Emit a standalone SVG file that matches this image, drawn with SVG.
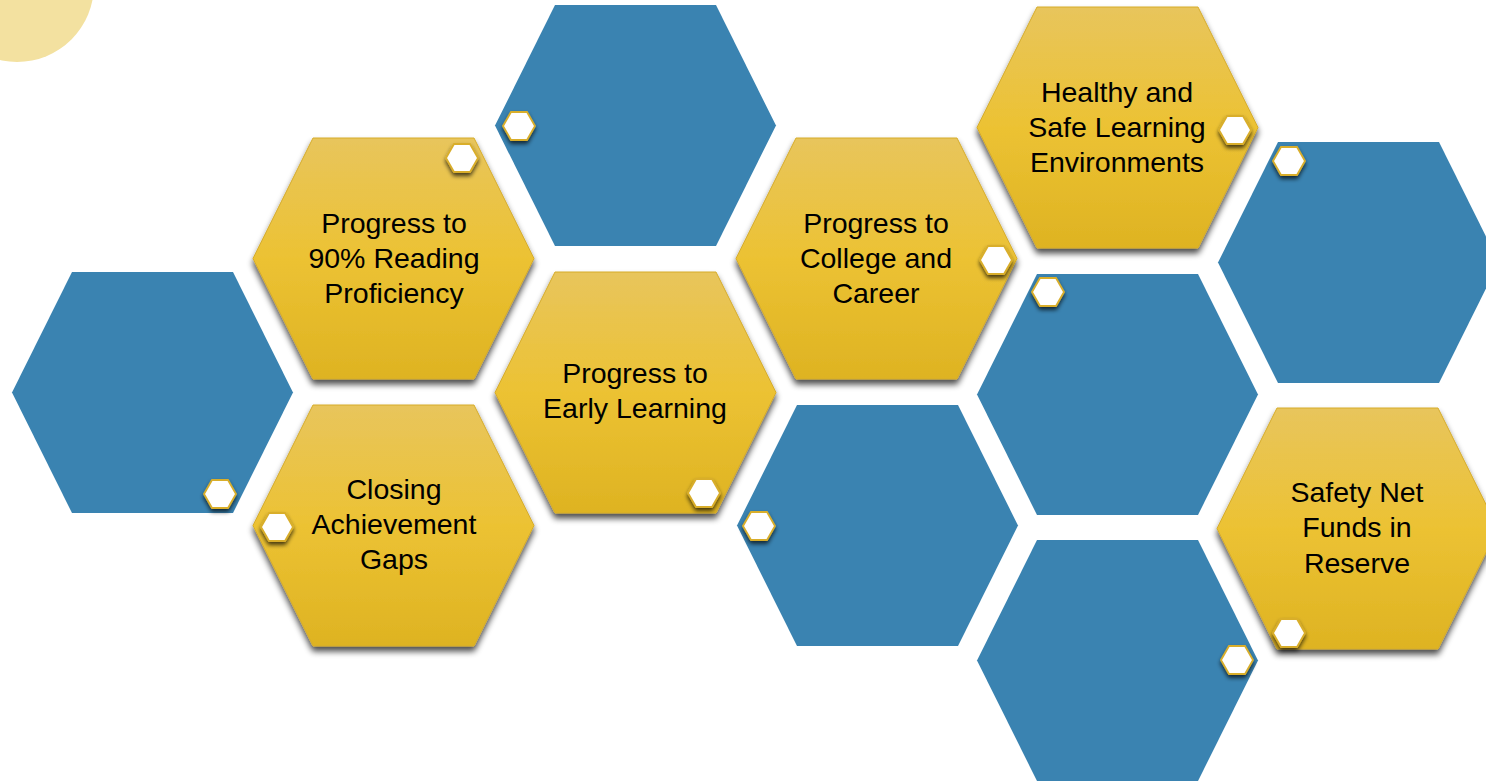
<svg xmlns="http://www.w3.org/2000/svg" xmlns:xlink="http://www.w3.org/1999/xlink" width="1486" height="781" viewBox="0 0 1486 781">
  <defs>
    <linearGradient id="gold" x1="0" y1="0" x2="0" y2="1">
      <stop offset="0" stop-color="#E8C55C"/>
      <stop offset="0.5" stop-color="#ECC233"/>
      <stop offset="1" stop-color="#DEB322"/>
    </linearGradient>
    <filter id="shHex" x="-10%" y="-10%" width="120%" height="125%">
      <feGaussianBlur in="SourceAlpha" stdDeviation="3"/>
      <feOffset dx="0" dy="5" result="b"/>
      <feComponentTransfer><feFuncA type="linear" slope="0.7"/></feComponentTransfer>
      <feMerge><feMergeNode/><feMergeNode in="SourceGraphic"/></feMerge>
    </filter>
    <filter id="shBadge" x="-40%" y="-40%" width="180%" height="190%">
      <feGaussianBlur in="SourceAlpha" stdDeviation="2"/>
      <feOffset dx="0" dy="3" result="b"/>
      <feComponentTransfer><feFuncA type="linear" slope="0.7"/></feComponentTransfer>
      <feMerge><feMergeNode/><feMergeNode in="SourceGraphic"/></feMerge>
    </filter>
    <path id="hx" d="M0,120.5 L60,0 L221,0 L281,120.5 L221,241 L60,241 Z"/>
    <path id="bd" d="M-16,0 L-8,-14 L8,-14 L16,0 L8,14 L-8,14 Z"/>
  </defs>
  <style>
    .blue { fill: #3A83B1; }
    .gold { fill: url(#gold); stroke: #D6AC2B; stroke-width: 1; filter: url(#shHex); }
    .badge { fill: #FFFFFF; stroke: #D9AE2C; stroke-width: 1.8; filter: url(#shBadge); }
    .lbl { font-family: "Liberation Sans", Arial, sans-serif; font-size: 28.5px; fill: #000000; text-anchor: middle; }
  </style>
  <rect width="1486" height="781" fill="#FFFFFF"/>
  <circle id="deco-circle" cx="17" cy="-15" r="77" fill="#F3E1A0"/>

  <g id="hex-blue-1"><use xlink:href="#hx" href="#hx" x="12" y="272" class="blue"/><use xlink:href="#bd" href="#bd" x="220" y="494" class="badge"/></g>
  <g id="hex-blue-2"><use xlink:href="#hx" href="#hx" x="495" y="5" class="blue"/><use xlink:href="#bd" href="#bd" x="519" y="126" class="badge"/></g>
  <g id="hex-blue-3"><use xlink:href="#hx" href="#hx" x="737" y="405" class="blue"/><use xlink:href="#bd" href="#bd" x="759" y="526" class="badge"/></g>
  <g id="hex-blue-4"><use xlink:href="#hx" href="#hx" x="977" y="274" class="blue"/><use xlink:href="#bd" href="#bd" x="1048" y="292" class="badge"/></g>
  <g id="hex-blue-5"><use xlink:href="#hx" href="#hx" x="1218" y="142" class="blue"/><use xlink:href="#bd" href="#bd" x="1289" y="161" class="badge"/></g>
  <g id="hex-blue-6"><use xlink:href="#hx" href="#hx" x="977" y="540" class="blue"/><use xlink:href="#bd" href="#bd" x="1237" y="660" class="badge"/></g>

  <g id="node-reading">
    <use xlink:href="#hx" href="#hx" x="253" y="138" class="gold"/>
    <use xlink:href="#bd" href="#bd" x="462" y="158" class="badge"/>
    <text class="lbl" x="394" y="233">Progress to</text>
    <text class="lbl" x="394" y="268">90% Reading</text>
    <text class="lbl" x="394" y="303">Proficiency</text>
  </g>
  <g id="node-gaps">
    <use xlink:href="#hx" href="#hx" x="253" y="405" class="gold"/>
    <use xlink:href="#bd" href="#bd" x="277" y="527" class="badge"/>
    <text class="lbl" x="394" y="499">Closing</text>
    <text class="lbl" x="394" y="534">Achievement</text>
    <text class="lbl" x="394" y="569">Gaps</text>
  </g>
  <g id="node-early">
    <use xlink:href="#hx" href="#hx" x="495" y="272" class="gold"/>
    <use xlink:href="#bd" href="#bd" x="704" y="493" class="badge"/>
    <text class="lbl" x="635" y="383">Progress to</text>
    <text class="lbl" x="635" y="418">Early Learning</text>
  </g>
  <g id="node-college">
    <use xlink:href="#hx" href="#hx" x="736" y="138" class="gold"/>
    <use xlink:href="#bd" href="#bd" x="996" y="260" class="badge"/>
    <text class="lbl" x="876" y="233">Progress to</text>
    <text class="lbl" x="876" y="268">College and</text>
    <text class="lbl" x="876" y="303">Career</text>
  </g>
  <g id="node-healthy">
    <use xlink:href="#hx" href="#hx" x="977" y="7" class="gold"/>
    <use xlink:href="#bd" href="#bd" x="1235" y="130" class="badge"/>
    <text class="lbl" x="1117" y="102">Healthy and</text>
    <text class="lbl" x="1117" y="137">Safe Learning</text>
    <text class="lbl" x="1117" y="172">Environments</text>
  </g>
  <g id="node-safety">
    <use xlink:href="#hx" href="#hx" x="1217" y="408" class="gold"/>
    <use xlink:href="#bd" href="#bd" x="1289" y="633" class="badge"/>
    <text class="lbl" x="1357" y="502">Safety Net</text>
    <text class="lbl" x="1357" y="537">Funds in</text>
    <text class="lbl" x="1357" y="573">Reserve</text>
  </g>
</svg>
